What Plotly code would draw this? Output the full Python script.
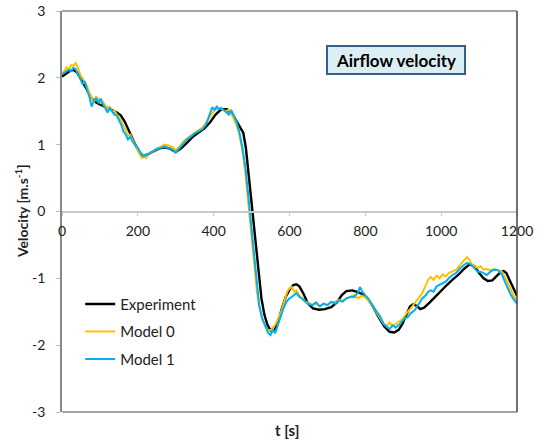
import plotly.graph_objects as go

# ---------------- data ----------------
exp_t = [0, 10, 20, 30, 40, 50, 60, 70, 80, 90, 100, 115, 130, 145, 155, 165, 175, 185, 195, 205,
         215, 225, 240, 255, 270, 285, 300, 315, 330, 345, 360, 375, 390, 405, 420, 435, 450, 460,
         470, 478, 485, 492, 498, 504, 510, 518, 526, 534, 542, 550, 556, 562, 570, 580, 590, 600,
         610, 618, 626, 636, 648, 662, 678, 693, 710, 725, 738, 750, 765, 776, 790, 805, 820, 835,
         850, 864, 876, 888, 898, 908, 918, 926, 935, 945, 955, 970, 985, 1000, 1015, 1030, 1045,
         1060, 1075, 1088, 1100, 1112, 1123, 1135, 1148, 1158, 1165, 1172, 1180, 1190, 1200]
exp_v = [2.02, 2.06, 2.10, 2.12, 2.08, 1.98, 1.88, 1.78, 1.68, 1.63, 1.60, 1.56, 1.52, 1.48, 1.44,
         1.35, 1.22, 1.10, 0.98, 0.88, 0.83, 0.85, 0.89, 0.94, 0.96, 0.94, 0.89, 0.95, 1.03, 1.12,
         1.18, 1.24, 1.33, 1.45, 1.53, 1.53, 1.45, 1.35, 1.25, 1.18, 0.95, 0.55, 0.20, -0.10, -0.45,
         -0.90, -1.30, -1.55, -1.70, -1.78, -1.79, -1.76, -1.65, -1.45, -1.28, -1.17, -1.10, -1.09,
         -1.12, -1.22, -1.37, -1.45, -1.47, -1.46, -1.43, -1.36, -1.25, -1.19, -1.18, -1.20, -1.23,
         -1.30, -1.42, -1.58, -1.72, -1.80, -1.81, -1.77, -1.68, -1.55, -1.42, -1.39, -1.41, -1.46,
         -1.44, -1.36, -1.27, -1.18, -1.10, -1.02, -0.95, -0.86, -0.79, -0.82, -0.92, -1.00, -1.04,
         -1.03, -0.96, -0.90, -0.89, -0.92, -1.02, -1.15, -1.26]

m0_t = [0, 6, 12, 18, 24, 30, 36, 42, 48, 54, 60, 66, 72, 78, 84, 90, 96, 102, 108, 114, 120, 126,
        132, 138, 144, 150, 156, 162, 168, 174, 180, 186, 192, 198, 204, 210, 216, 222, 228, 234,
        240, 250, 260, 270, 280, 290, 300, 310, 320, 330, 340, 350, 360, 370, 380, 390, 400, 410,
        420, 430, 440, 450, 460, 468, 476, 484, 490, 496, 502, 508, 514, 520, 528, 536, 544, 552,
        558, 564, 570, 578, 586, 594, 600, 606, 612, 618, 626, 634, 642, 650, 660, 670, 680, 690,
        700, 710, 720, 730, 740, 750, 760, 770, 780, 790, 800, 810, 820, 830, 840, 848, 856, 864,
        872, 880, 888, 896, 904, 912, 920, 930, 940, 950, 960, 966, 972, 980, 988, 996, 1004, 1012,
        1020, 1030, 1040, 1050, 1060, 1068, 1074, 1080, 1088, 1096, 1104, 1112, 1120, 1130, 1140,
        1150, 1160, 1168, 1176, 1184, 1192, 1200]
m0_v = [2.07, 2.10, 2.16, 2.12, 2.19, 2.18, 2.22, 2.15, 2.05, 2.00, 1.93, 1.88, 1.78, 1.70, 1.63,
        1.72, 1.66, 1.62, 1.64, 1.58, 1.54, 1.56, 1.50, 1.51, 1.46, 1.42, 1.36, 1.28, 1.22, 1.14,
        1.15, 1.08, 1.02, 0.95, 0.87, 0.80, 0.84, 0.80, 0.86, 0.88, 0.90, 0.93, 0.97, 1.00, 0.99,
        0.97, 0.92, 0.97, 1.05, 1.10, 1.14, 1.18, 1.22, 1.25, 1.33, 1.42, 1.50, 1.55, 1.54, 1.50,
        1.52, 1.42, 1.30, 1.15, 0.90, 0.55, 0.20, -0.15, -0.50, -0.90, -1.20, -1.42, -1.60, -1.72,
        -1.78, -1.77, -1.72, -1.68, -1.60, -1.50, -1.35, -1.20, -1.15, -1.13, -1.20, -1.18, -1.25,
        -1.32, -1.35, -1.36, -1.40, -1.38, -1.42, -1.38, -1.40, -1.36, -1.35, -1.32, -1.33, -1.30,
        -1.28, -1.25, -1.30, -1.26, -1.28, -1.35, -1.42, -1.52, -1.60, -1.68, -1.72, -1.66, -1.72,
        -1.68, -1.65, -1.62, -1.55, -1.50, -1.45, -1.38, -1.30, -1.22, -1.10, -1.02, -0.98, -1.02,
        -0.96, -1.00, -0.94, -0.97, -0.92, -0.90, -0.87, -0.80, -0.74, -0.68, -0.72, -0.78, -0.82,
        -0.84, -0.82, -0.87, -0.86, -0.88, -0.86, -0.88, -0.90, -0.98, -1.08, -1.18, -1.27, -1.33]

m1_t = [0, 6, 12, 18, 24, 30, 36, 42, 48, 54, 60, 66, 72, 78, 84, 90, 96, 102, 108, 114, 120, 126,
        132, 138, 144, 150, 156, 162, 168, 174, 180, 186, 192, 198, 204, 210, 216, 222, 228, 234,
        240, 250, 260, 270, 280, 290, 300, 310, 320, 330, 340, 350, 360, 370, 380, 390, 396, 402,
        408, 414, 420, 430, 440, 446, 452, 460, 468, 476, 484, 490, 496, 502, 508, 514, 520, 528,
        536, 544, 550, 556, 562, 568, 576, 584, 592, 600, 606, 612, 618, 626, 634, 642, 650, 660,
        670, 680, 690, 700, 710, 720, 730, 740, 750, 760, 770, 780, 786, 792, 800, 810, 820, 830,
        840, 848, 856, 864, 872, 880, 888, 896, 904, 912, 920, 930, 940, 950, 960, 966, 972, 980,
        988, 996, 1004, 1012, 1020, 1030, 1040, 1050, 1060, 1068, 1074, 1080, 1088, 1096, 1104,
        1112, 1120, 1130, 1140, 1150, 1160, 1168, 1176, 1184, 1192, 1200]
m1_v = [2.05, 2.08, 2.10, 2.12, 2.10, 2.15, 2.13, 2.05, 2.00, 1.90, 1.95, 1.82, 1.72, 1.57, 1.65,
        1.70, 1.62, 1.69, 1.60, 1.55, 1.48, 1.55, 1.50, 1.45, 1.44, 1.38, 1.30, 1.20, 1.15, 1.08,
        1.12, 1.05, 1.00, 0.97, 0.90, 0.85, 0.82, 0.86, 0.85, 0.89, 0.90, 0.94, 0.95, 0.97, 0.95,
        0.93, 0.88, 0.95, 1.02, 1.08, 1.12, 1.17, 1.20, 1.23, 1.30, 1.45, 1.56, 1.52, 1.57, 1.53,
        1.55, 1.50, 1.45, 1.52, 1.45, 1.35, 1.18, 0.95, 0.65, 0.30, -0.05, -0.40, -0.80, -1.15,
        -1.40, -1.60, -1.72, -1.82, -1.85, -1.76, -1.82, -1.72, -1.58, -1.45, -1.35, -1.30, -1.28,
        -1.25, -1.22, -1.28, -1.30, -1.35, -1.38, -1.40, -1.36, -1.42, -1.38, -1.40, -1.35, -1.38,
        -1.33, -1.35, -1.30, -1.28, -1.28, -1.22, -1.13, -1.20, -1.25, -1.32, -1.42, -1.50, -1.58,
        -1.68, -1.72, -1.76, -1.70, -1.74, -1.70, -1.65, -1.60, -1.58, -1.52, -1.48, -1.38, -1.30,
        -1.25, -1.20, -1.18, -1.20, -1.12, -1.10, -1.08, -1.05, -1.00, -0.95, -0.92, -0.85, -0.80,
        -0.77, -0.78, -0.80, -0.85, -0.90, -0.90, -0.92, -0.95, -0.90, -0.87, -0.88, -0.94, -1.05,
        -1.15, -1.25, -1.32, -1.38]

series_names = ["Experiment", "Model 0", "Model 1"]
x_tick_vals = [0, 200, 400, 600, 800, 1000, 1200]
x_tick_text = ["0", "200", "400", "600", "800", "1000", "1200"]
y_tick_vals = [-3, -2, -1, 0, 1, 2, 3]
y_tick_text = ["-3", "-2", "-1", "0", "1", "2", "3"]

# ---------------- figure ----------------
FONT = "Lato, 'Open Sans', sans-serif"
fig = go.Figure()
colors = ["#000000", "#FFC000", "#00B0F0"]
widths = [2.4, 2.0, 2.0]
for name, tt, vv, c, w in zip(series_names, [exp_t, m0_t, m1_t], [exp_v, m0_v, m1_v], colors, widths):
    fig.add_trace(go.Scatter(x=tt, y=vv, mode="lines", name=name, legendgroup=name,
                             line=dict(color=c, width=w)))

fig.update_layout(
    width=541, height=441,
    margin=dict(l=62, r=24, t=11, b=29, autoexpand=False),
    paper_bgcolor="white", plot_bgcolor="white",
    font=dict(family=FONT, size=14, color="#222222"),
    showlegend=True,
    legend=dict(x=0.04, y=0.31, xanchor="left", yanchor="top",
                bgcolor="rgba(0,0,0,0)", font=dict(family=FONT, size=15, color="#222222"),
                itemwidth=30, tracegroupgap=5),
    xaxis=dict(range=[0, 1200], tickvals=x_tick_vals, ticktext=x_tick_text,
               showgrid=False, zeroline=False, anchor="free", position=0.5,
               automargin=False,
               showline=True, linecolor="#C8C8C8", linewidth=1.5,
               ticks="outside", ticklen=4, tickcolor="#C8C8C8",
               ticklabelstandoff=3,
               tickfont=dict(family=FONT, size=14, color="#222222")),
    yaxis=dict(range=[-3, 3], tickvals=y_tick_vals, ticktext=y_tick_text,
               showgrid=False, zeroline=False, automargin=False,
               showline=True, linecolor="#888888", linewidth=1.5,
               ticks="outside", ticklen=4, tickcolor="#BBBBBB",
               ticklabelstandoff=8,
               tickfont=dict(family=FONT, size=14, color="#222222")),
    shapes=[
        dict(type="line", xref="paper", yref="paper", x0=0, x1=1, y0=1, y1=1,
             line=dict(color="#888888", width=1.5)),
        dict(type="line", xref="paper", yref="paper", x0=0, x1=1, y0=0, y1=0,
             line=dict(color="#888888", width=1.5)),
        dict(type="line", xref="paper", yref="paper", x0=1, x1=1, y0=0, y1=1,
             line=dict(color="#404040", width=1.5)),
    ],
    annotations=[
        dict(text="<b>Airflow velocity</b>", xref="paper", yref="paper", x=0.735, y=0.878,
             xanchor="center", yanchor="middle", showarrow=False,
             font=dict(family=FONT, size=17, color="#000000"),
             bgcolor="#DBEEF4", bordercolor="#385D8A", borderwidth=2, borderpad=3,
             width=130, height=20),
        dict(text="<b>Velocity [m.s<sup>-1</sup>]</b>", xref="paper", yref="paper",
             x=-0.089, y=0.5, xanchor="center", yanchor="middle", textangle=-90,
             showarrow=False, font=dict(family=FONT, size=14, color="#222222")),
        dict(text="<b>t [s]</b>", xref="paper", yref="paper", x=0.494, y=-0.046,
             xanchor="center", yanchor="middle", showarrow=False,
             font=dict(family=FONT, size=15, color="#222222")),
    ],
)

fig.write_html("out.html")
